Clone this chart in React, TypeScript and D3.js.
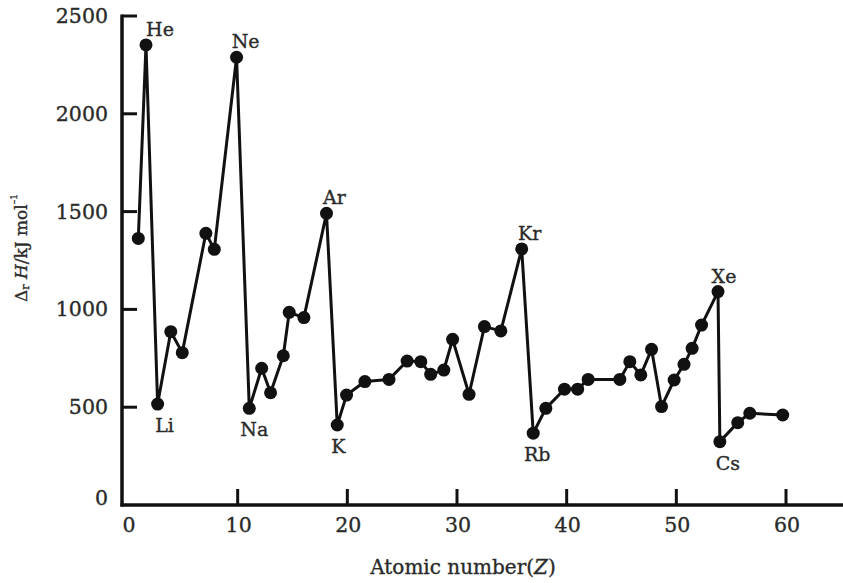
import React from "react";
import * as d3 from "d3";

const atomicZ = [0.94, 1.64, 2.7, 3.9, 4.95, 7.1, 7.87, 9.9, 11.06, 12.19, 13.0, 14.16, 14.7, 16.04, 18.1, 19.08, 19.93, 21.6, 23.8, 25.45, 26.7, 27.6, 28.8, 29.6, 31.1, 32.5, 34.0, 35.9, 36.95, 38.1, 39.8, 41.0, 41.96, 44.85, 45.76, 46.76, 47.74, 48.65, 49.8, 50.7, 51.44, 52.3, 53.8, 53.97, 55.6, 56.7, 59.7];
const enthalpy = [1363, 2352, 516, 886, 779, 1389, 1307, 2289, 494, 699, 574, 763, 985, 958, 1491, 409, 562, 631, 642, 736, 733, 668, 690, 847, 566, 912, 890, 1309, 367, 494, 592, 592, 642, 642, 733, 665, 796, 503, 639, 719, 801, 920, 1091, 324, 421, 469, 460];

const labelNames = ["He", "Ne", "Ar", "Kr", "Xe", "Li", "Na", "K", "Rb", "Cs"];
const labelIndex = [1, 7, 14, 27, 42, 2, 8, 15, 28, 43];
const labelAbove = [true, true, true, true, true, false, false, false, false, false];

const xTicks = [0, 10, 20, 30, 40, 50, 60];
const yTicks = [0, 500, 1000, 1500, 2000, 2500];

const labelDx = [14, 9, 8, 8, 6, 7, 5, 1, 4, 8];

export default function App() {
  const W = 843, H = 583;
  const x = d3.scaleLinear().domain([0, 60]).range([128, 786]);
  const y = d3.scaleLinear().domain([0, 2500]).range([505, 16]);
  const axisLeft = 122;
  const axisRight = 843;
  const line = d3.line<number>().x((_, i) => x(atomicZ[i])).y((v) => y(v));
  const font = "'DejaVu Serif', 'Liberation Serif', serif";
  const ink = "#111";
  const textInk = "#2a2a2a";
  const tw = { stroke: textInk, strokeWidth: 0.35 };

  return (
    <svg width={W} height={H} style={{ position: "absolute", left: 0, top: 0, background: "#fff" }} fontFamily={font}>
      {/* axes */}
      <line x1={axisLeft} x2={axisLeft} y1={y(2500) - 1.5} y2={y(0) + 1.5} stroke={ink} strokeWidth={3.5} />
      <line x1={axisLeft - 1.5} x2={axisRight} y1={y(0)} y2={y(0)} stroke={ink} strokeWidth={3.5} />
      {yTicks.filter((t) => t > 0).map((t) => (
        <line key={"yt" + t} x1={axisLeft} x2={axisLeft + 15} y1={y(t)} y2={y(t)} stroke={ink} strokeWidth={3} />
      ))}
      {yTicks.map((t) => (
        <text key={"yl" + t} x={108} y={y(t) - (t === 0 ? 7 : 0)} textAnchor="end" dominantBaseline="central" fontSize={20.5} fill={textInk} {...tw}>
          {t}
        </text>
      ))}
      {xTicks.filter((t) => t > 0).map((t) => (
        <line key={"xt" + t} x1={x(t)} x2={x(t)} y1={y(0)} y2={y(0) - 16} stroke={ink} strokeWidth={3} />
      ))}
      {xTicks.map((t) => (
        <text key={"xl" + t} x={x(t) + 1} y={525} textAnchor="middle" dominantBaseline="central" fontSize={20.5} fill={textInk} {...tw}>
          {t}
        </text>
      ))}
      <text x={463} y={567} textAnchor="middle" dominantBaseline="central" fontSize={20} fill={textInk} {...tw}>
        Atomic number(<tspan fontStyle="italic">Z</tspan>)
      </text>
      <text transform="translate(21,248) rotate(-90)" textAnchor="middle" dominantBaseline="central" fontSize={17} fill={textInk} {...tw}>
        Δ<tspan fontSize={11} dy={4}>r</tspan>
        <tspan dy={-4}> </tspan>
        <tspan fontStyle="italic">H</tspan>/kJ mol<tspan fontSize={9} dy={-7}>–1</tspan>
      </text>

      {/* data */}
      <path d={line(enthalpy) || ""} fill="none" stroke={ink} strokeWidth={3} strokeLinejoin="round" />
      {enthalpy.map((v, i) => (
        <circle key={"p" + i} cx={x(atomicZ[i])} cy={y(v)} r={6.5} fill={ink} />
      ))}
      {labelNames.map((n, k) => {
        const i = labelIndex[k];
        return (
          <text key={n} x={x(atomicZ[i]) + labelDx[k]} y={y(enthalpy[i]) + (labelAbove[k] ? -16 : 21)} textAnchor="middle" dominantBaseline="central" fontSize={19} fill={textInk} {...tw}>
            {n}
          </text>
        );
      })}
    </svg>
  );
}
